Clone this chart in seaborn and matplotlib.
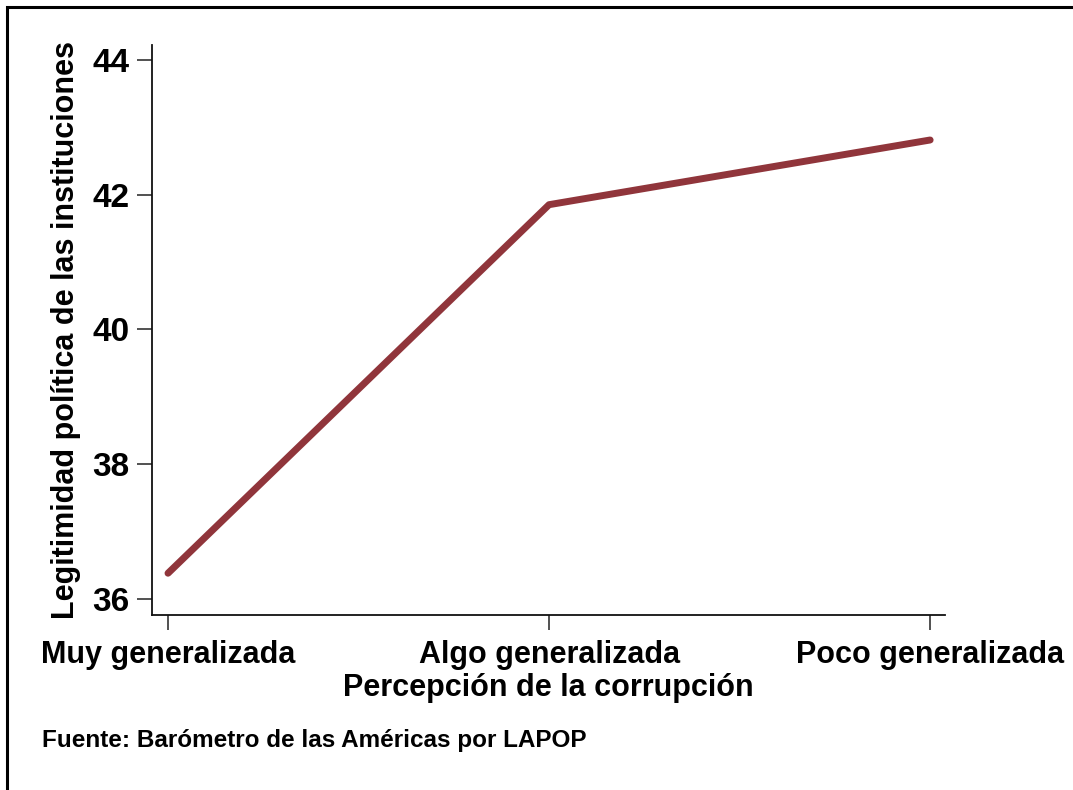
import matplotlib
matplotlib.use("Agg")
import matplotlib.pyplot as plt
import pandas as pd
import seaborn as sns
from matplotlib.patches import Rectangle

categorias = ["Muy generalizada", "Algo generalizada", "Poco generalizada"]
legitimidad = [36.38, 41.85, 42.81]
yticks = [36, 38, 40, 42, 44]

df = pd.DataFrame({"percepcion": categorias, "legitimidad": legitimidad})

sns.set_theme(style="ticks")
plt.rcParams["font.family"] = ["Liberation Sans", "DejaVu Sans"]
plt.rcParams["font.weight"] = "bold"
plt.rcParams["text.color"] = "black"
plt.rcParams["axes.labelcolor"] = "black"
plt.rcParams["xtick.labelcolor"] = "black"
plt.rcParams["ytick.labelcolor"] = "black"

W, H = 1073, 790
fig = plt.figure(figsize=(W / 100, H / 100), dpi=100)
ax = fig.add_axes([152 / W, (H - 615) / H, (945 - 152) / W, (615 - 45) / H])

sns.lineplot(data=df, x="percepcion", y="legitimidad", sort=False,
             color="#90353B", lw=5, ax=ax)
ax.lines[0].set_solid_capstyle("round")

ax.set_xlim(-0.042, 2.039)
ax.set_ylim(35.76, 44.22)
ax.set_yticks(yticks)
ax.set_yticklabels([str(v) for v in yticks], fontsize=24, fontweight="bold")
ax.set_xticks(range(len(categorias)))
ax.set_xticklabels(categorias, fontsize=22, fontweight="bold")
ax.tick_params(axis="both", length=11, width=1.2, color="#333333")
ax.tick_params(axis="x", pad=7)
ax.tick_params(axis="y", pad=5)
for s in ["top", "right"]:
    ax.spines[s].set_visible(False)
for s in ["left", "bottom"]:
    ax.spines[s].set_linewidth(1.3)
    ax.spines[s].set_color("#111111")

ax.set_xlabel("Percepción de la corrupción", fontsize=22, fontweight="bold", labelpad=2)
ax.set_ylabel("Legitimidad política de las instituciones", fontsize=22,
              fontweight="bold", labelpad=8)

fig.text(42 / W, 1 - 741 / H, "Fuente: Barómetro de las Américas por LAPOP",
         fontsize=17.5, fontweight="bold", va="center", ha="left")

# marco exterior
fig.patches.append(Rectangle((7 / W, -0.5), 2, 0.5 + (H - 7) / H, fill=False,
                             lw=2.2, edgecolor="black", transform=fig.transFigure))

fig.savefig("out.png", dpi=100)
